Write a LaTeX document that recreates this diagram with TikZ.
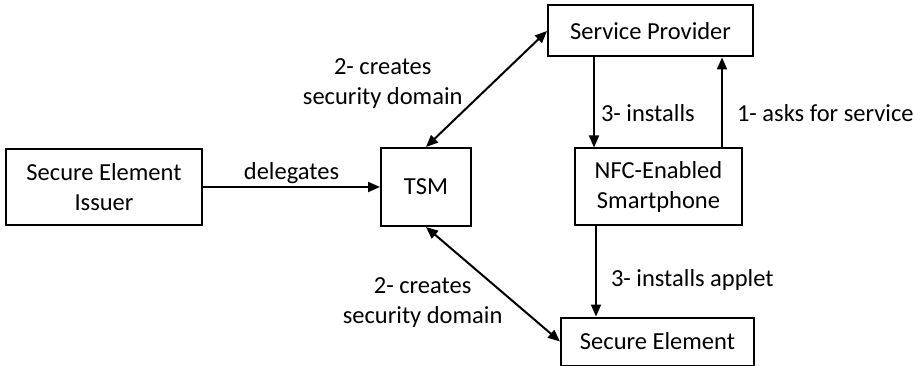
\documentclass[tikz,border=0pt]{standalone}
\usepackage{fontspec}
\setmainfont{Carlito}
\usepackage{tikz}
\usetikzlibrary{
  	positioning,
  	arrows.meta
  }

\begin{document}
\begin{tikzpicture}[x=1pt, y=-1pt, line width=2pt,
	every node/.style={font=\fontsize{24.5}{30}\selectfont},
	box/.style={draw, align=center, inner sep=0pt},
	lbl/.style={inner sep=2pt, align=center},
	arr/.style={-{Triangle[length=12pt, width=10pt]}},
	biarr/.style={{Triangle[length=12pt, width=10pt]}-{Triangle[length=12pt, width=10pt]}}]
	\useasboundingbox (0,0) rectangle (913,366);
	\node[box, minimum width=90pt, minimum height=78pt] (tsm) at (426,187) {TSM};
	\node[box, left=177pt of tsm, minimum width=196pt, minimum height=76pt] (sei) {Secure Element\\Issuer};
	\node[box, right=102pt of tsm, minimum width=167pt, minimum height=77pt] (nfc) {NFC-Enabled\\Smartphone};
	\node[box, above=90pt of nfc, xshift=-8pt, minimum width=205pt, minimum height=51pt] (sp) {Service Provider};
	\node[box, below=90pt of nfc, xshift=-1pt, minimum width=193pt, minimum height=48pt] (se) {Secure Element};
%
	\draw[arr] (sei) -- (tsm) node[lbl, midway, above] {delegates};
	\draw[biarr] (tsm.north) -- (sp.west) node[lbl, pos=.55, left=27pt] {2- creates\\security domain};
	\draw[biarr] (tsm.south) -- (se.west) node[lbl, pos=.66, left=9pt] {2- creates\\security domain};
%
	\draw[arr] ([xshift=20pt]nfc.north west |- sp.south) -- ([xshift=20pt]nfc.north west) node[lbl, pos=.62, right=4pt] {3- installs};
	\draw[arr] ([xshift=-21pt]nfc.north east) -- ([xshift=-21pt]nfc.north east |- sp.south) node[lbl, pos=.38, right=12pt] {1- asks for service};
	\draw[arr] ([xshift=22pt]nfc.south west) -- ([xshift=22pt]nfc.south west |- se.north) node[lbl, pos=.59, right=12pt] {3- installs applet};
\end{tikzpicture}
\end{document}
